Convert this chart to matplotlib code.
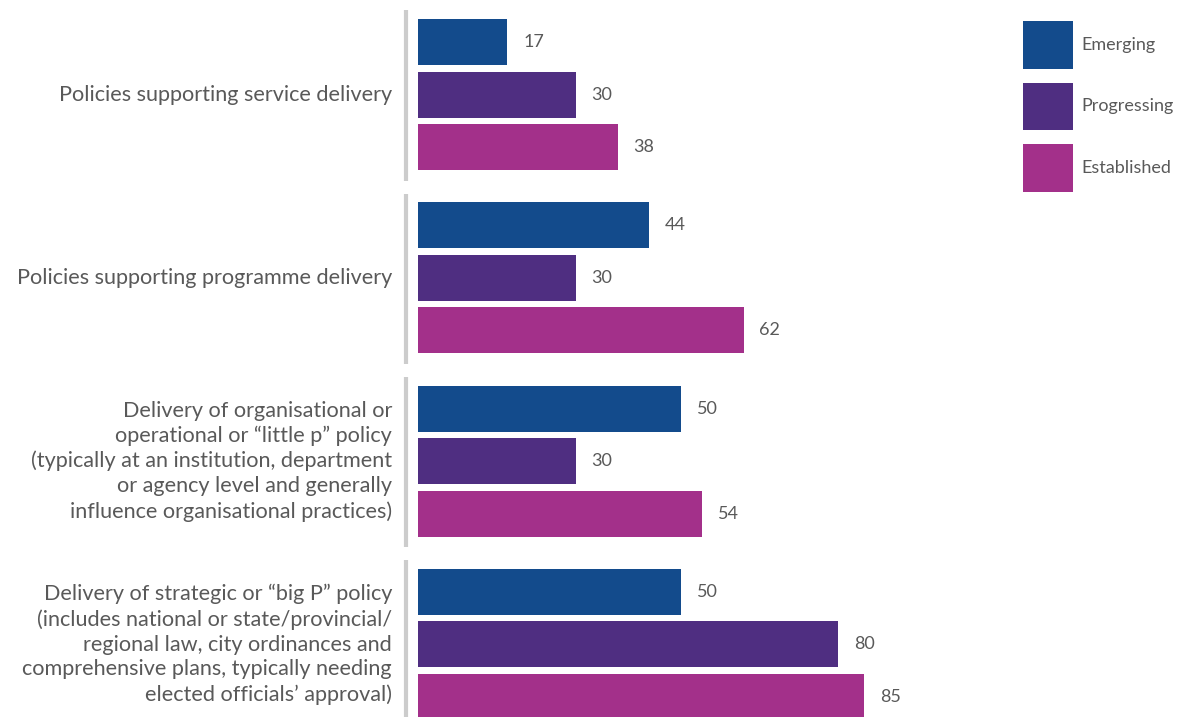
import matplotlib.pyplot as plt
import matplotlib.transforms as mtransforms
import numpy as np

categories = [
    "Policies supporting service delivery",
    "Policies supporting programme delivery",
    "Delivery of organisational or\noperational or \u201clittle p\u201d policy\n(typically at an institution, department\nor agency level and generally\ninfluence organisational practices)",
    "Delivery of strategic or \u201cbig P\u201d policy\n(includes national or state/provincial/\nregional law, city ordinances and\ncomprehensive plans, typically needing\nelected officials\u2019 approval)",
]
series = ["Emerging", "Progressing", "Established"]
emerging = [17, 44, 50, 50]
progressing = [30, 30, 30, 80]
established = [38, 62, 54, 85]

colors = ["#134b8c", "#4f2e81", "#a3308a"]
text_color = "#595959"

plt.rcParams["font.family"] = ["Lato", "DejaVu Sans"]

W, H = 1187, 717
fig = plt.figure(figsize=(W / 100, H / 100), dpi=100)
ax_left, ax_w = 418, 560
ax = fig.add_axes([ax_left / W, 0, ax_w / W, 1])

px_per_unit = 5.25
ax.set_xlim(0, ax_w / px_per_unit)

pitch = 183.3
ax.set_ylim(3 + 72.5 / pitch, -94.5 / pitch)

y = np.arange(len(categories))
offset = 52.5 / pitch
height = 46 / pitch
for k, (vals, col) in enumerate(zip([emerging, progressing, established], colors)):
    pos = y + (k - 1) * offset
    ax.barh(pos, vals, height=height, color=col, label=series[k])
    for p, v in zip(pos, vals):
        ax.annotate(str(v), (v, p), xytext=(16, 0), textcoords="offset pixels",
                    va="center", ha="left", fontsize=13, color=text_color)

# grey separators on the left of each group, plus category labels
trans = mtransforms.blended_transform_factory(ax.transAxes, ax.transData)
sep_x = -12 / ax_w
for i, label in enumerate(categories):
    ax.plot([sep_x, sep_x], [i - 0.46, i + 0.47], color="#cccccc", lw=3,
            transform=trans, clip_on=False, solid_capstyle="butt")
    ax.text(-26 / ax_w, i, label, transform=trans, ha="right", va="center",
            fontsize=15.6, color=text_color, linespacing=1.3, multialignment="right")

ax.axis("off")

fig.legend(loc="upper left", bbox_to_anchor=(1023 / W, 1 - 21 / H),
           frameon=False, borderpad=0, borderaxespad=0, fontsize=13,
           handlelength=2.77, handleheight=3.71, labelspacing=0.75,
           handletextpad=0.45, labelcolor=text_color)

fig.savefig("out.png", dpi=100)
